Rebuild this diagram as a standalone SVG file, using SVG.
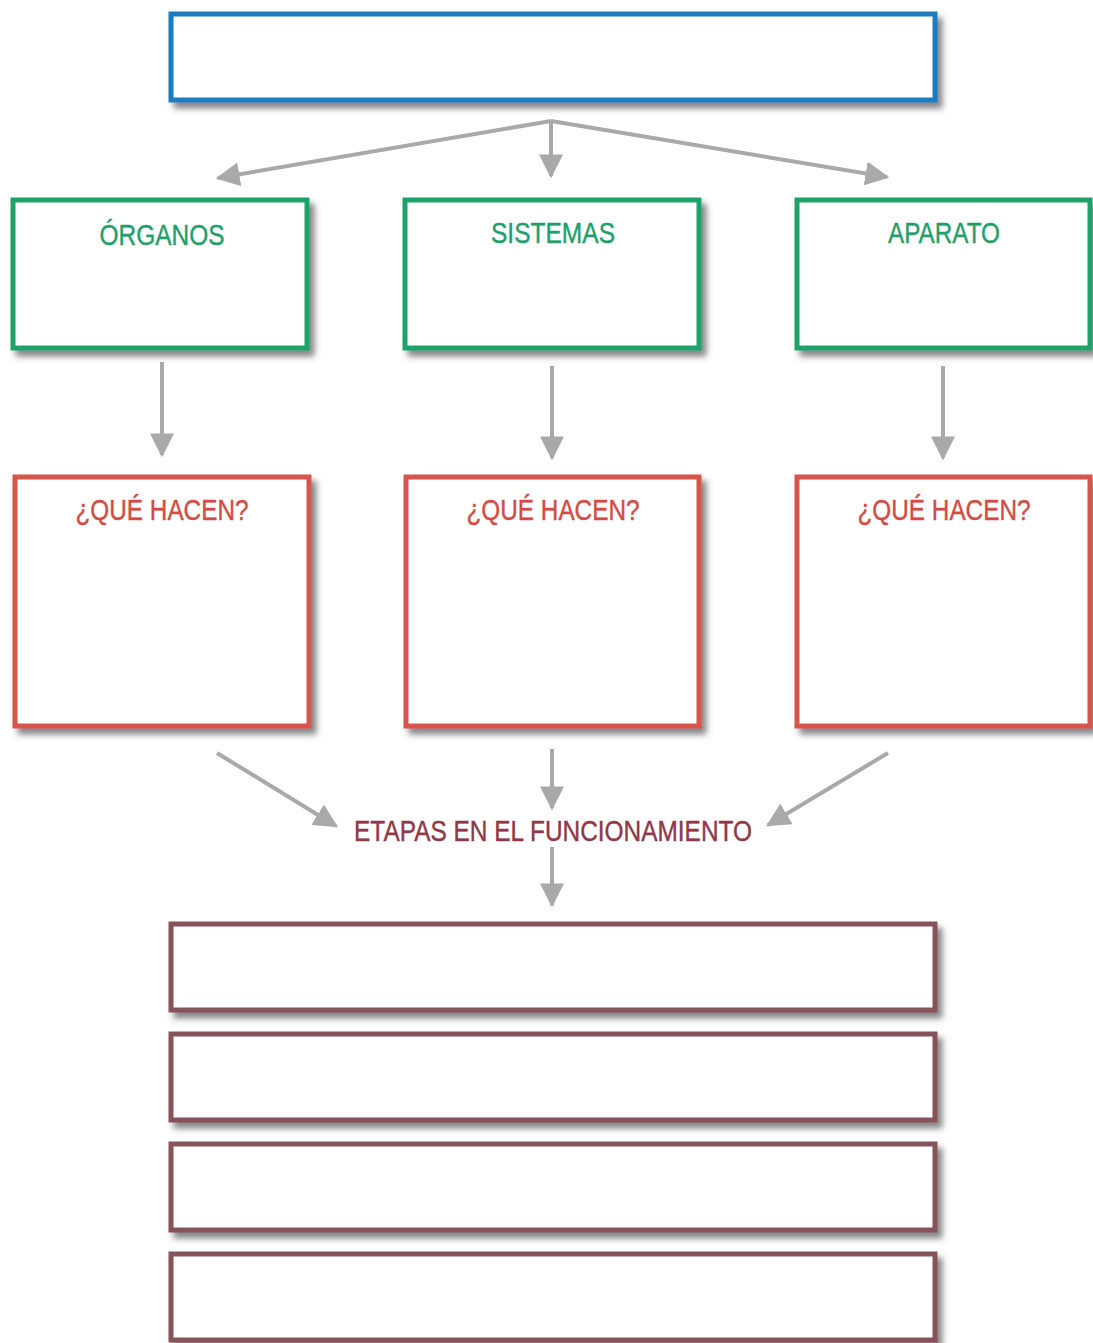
<svg xmlns="http://www.w3.org/2000/svg" width="1093" height="1343" viewBox="0 0 1093 1343">
<style>
.box{fill:#fff;stroke-width:5;filter:url(#sh)}
.blue{stroke:#1b7cc0}
.green{stroke:#1fa36c}
.red{stroke:#d9554b}
.brown{stroke:#86525a}
.conn{stroke:#a9a9a9;stroke-width:4;fill:none;marker-end:url(#ah)}
.t{font-family:"Liberation Sans",Arial,sans-serif;font-size:29px;text-anchor:middle;stroke-width:0.4}
.tg{fill:#1f9f6b;stroke:#1f9f6b}
.tr{fill:#d24c43;stroke:#d24c43}
.tb{fill:#8e3848;stroke:#8e3848}
</style>
<defs>
<filter id="sh" x="-10%" y="-10%" width="125%" height="130%">
<feDropShadow dx="5" dy="6" stdDeviation="3" flood-color="#444" flood-opacity="0.65"/>
</filter>
<marker id="ah" viewBox="0 0 10 10" refX="9" refY="5" markerWidth="6" markerHeight="6" orient="auto" markerUnits="strokeWidth">
<path d="M0,0 L10,5 L0,10 Z" fill="#a9a9a9"/>
</marker>
</defs>
<g id="top"><rect class="box blue" x="171" y="14" width="764" height="86"/></g>
<g id="organos"><rect class="box green" x="13" y="200" width="294" height="148"/>
<text class="t tg" x="162" y="245" textLength="125" lengthAdjust="spacingAndGlyphs">ÓRGANOS</text></g>
<g id="sistemas"><rect class="box green" x="405" y="200" width="294" height="148"/>
<text class="t tg" x="553" y="243" textLength="124" lengthAdjust="spacingAndGlyphs">SISTEMAS</text></g>
<g id="aparato"><rect class="box green" x="797" y="200" width="293" height="148"/>
<text class="t tg" x="944" y="243" textLength="112" lengthAdjust="spacingAndGlyphs">APARATO</text></g>
<g id="que1"><rect class="box red" x="15" y="477" width="294" height="249"/>
<text class="t tr" x="162" y="520" textLength="173" lengthAdjust="spacingAndGlyphs">¿QUÉ HACEN?</text></g>
<g id="que2"><rect class="box red" x="406" y="477" width="293" height="249"/>
<text class="t tr" x="553" y="520" textLength="173" lengthAdjust="spacingAndGlyphs">¿QUÉ HACEN?</text></g>
<g id="que3"><rect class="box red" x="797" y="477" width="293" height="249"/>
<text class="t tr" x="944" y="520" textLength="173" lengthAdjust="spacingAndGlyphs">¿QUÉ HACEN?</text></g>
<g id="etapas"><text class="t tb" x="553" y="841" textLength="398" lengthAdjust="spacingAndGlyphs">ETAPAS EN EL FUNCIONAMIENTO</text></g>
<g id="e1"><rect class="box brown" x="171" y="924" width="764" height="86"/></g>
<g id="e2"><rect class="box brown" x="171" y="1034" width="764" height="86"/></g>
<g id="e3"><rect class="box brown" x="171" y="1144" width="764" height="86"/></g>
<g id="e4"><rect class="box brown" x="171" y="1254" width="764" height="86"/></g>
<g id="connectors">
<line class="conn" x1="551" y1="121" x2="218" y2="178"/>
<line class="conn" x1="551" y1="121" x2="551" y2="176"/>
<line class="conn" x1="551" y1="121" x2="887" y2="177"/>
<line class="conn" x1="162" y1="362" x2="162" y2="455"/>
<line class="conn" x1="552" y1="366" x2="552" y2="458"/>
<line class="conn" x1="943" y1="366" x2="943" y2="458"/>
<line class="conn" x1="217" y1="753" x2="336" y2="826"/>
<line class="conn" x1="552" y1="749" x2="552" y2="808"/>
<line class="conn" x1="888" y1="753" x2="768" y2="825"/>
<line class="conn" x1="552" y1="847" x2="552" y2="905"/>
</g>
</svg>
